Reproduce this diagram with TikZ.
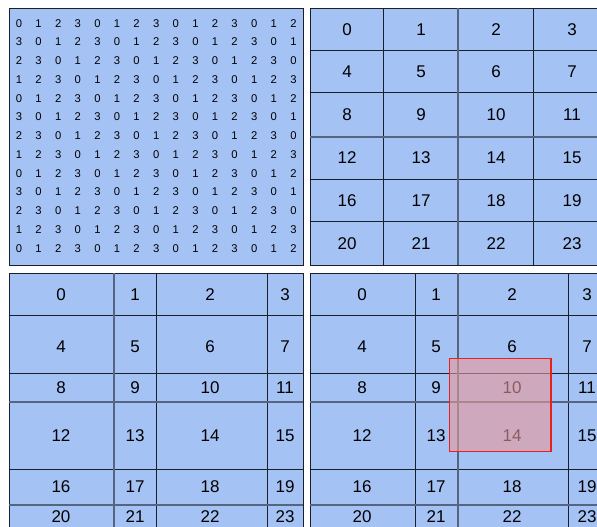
\documentclass[tikz,border=0pt]{standalone}
\usepackage{fontspec}
\setmainfont{Liberation Sans}
\definecolor{cellblue}{HTML}{A4C2F4}
\definecolor{gridink}{HTML}{1A1F2A}
\definecolor{seamink}{HTML}{56657F}
\definecolor{hotred}{HTML}{E8201E}
\definecolor{hotfill}{HTML}{EA9999}
\begin{document}
\begin{tikzpicture}[
  x=0.03cm, y=-0.03cm,
  panel/.style={draw=gridink, fill=cellblue, line width=0.85pt},
  gridline/.style={draw=gridink, line width=0.85pt},
  seam/.style={draw=seamink, line width=1.6pt},
  smallnum/.style={font=\fontsize{9.6}{11}\selectfont, inner sep=0pt},
  num/.style={font=\fontsize{14.5}{16}\selectfont, inner sep=0pt},
  hot/.style={draw=hotred, line width=1.3pt, fill=hotfill, fill opacity=0.6},
]
  \useasboundingbox (0,0) rectangle (597,526);
  \clip (0,0) rectangle (597,526);

  % element grid
  \draw[panel] (9,8) rectangle (303,265);
  \foreach \r in {0,...,12}
    \foreach \c in {0,...,14} {
      \pgfmathtruncatemacro\v{mod(\c-\r+16,4)}
      \node[smallnum] (s-\r-\c) at ({19+19.6*\c},{23.3+18.75*\r}) {\v};
    }

  % uniform tiles
  \draw[panel] (310,8) rectangle (620,265);
  \foreach \y in {50,92,179,221} \draw[gridline] (310,\y) -- (620,\y);
  \foreach \x in {383,533} \draw[gridline] (\x,8) -- (\x,265);
  \draw[seam] (310,137) -- (620,137);
  \draw[seam] (458,8) -- (458,265);
  \foreach \r/\y in {0/29.5,1/72,2/115,3/158,4/201,5/244}
    \foreach \c/\x in {0/347,1/421,2/496,3/572} {
      \pgfmathtruncatemacro\n{4*\r+\c}
      \node[num] (u-\n) at (\x,\y) {\n};
    }

  % uneven tiles, left
  \draw[panel] (9,273) rectangle (303,545);
  \foreach \y in {315,373,469} \draw[gridline] (9,\y) -- (303,\y);
  \foreach \x in {156,267} \draw[gridline] (\x,273) -- (\x,545);
  \foreach \y in {402,505} \draw[seam] (9,\y) -- (303,\y);
  \draw[seam] (114,273) -- (114,545);
  \foreach \r/\y in {0/295,1/347,2/388,3/436,4/487,5/517}
    \foreach \c/\x in {0/61,1/135,2/210,3/285} {
      \pgfmathtruncatemacro\n{4*\r+\c}
      \node[num] (l-\n) at (\x,\y) {\n};
    }

  % uneven tiles, right
  \draw[panel] (310,273) rectangle (620,545);
  \foreach \y in {315,373,469} \draw[gridline] (310,\y) -- (620,\y);
  \foreach \x in {415.7,568.7} \draw[gridline] (\x,273) -- (\x,545);
  \foreach \y in {402,505} \draw[seam] (310,\y) -- (620,\y);
  \draw[seam] (457.7,273) -- (457.7,545);
  \foreach \r/\y in {0/295,1/347,2/388,3/436,4/487,5/517}
    \foreach \c/\x in {0/362,1/436,2/512,3/587} {
      \pgfmathtruncatemacro\n{4*\r+\c}
      \node[num] (r-\n) at (\x,\y) {\n};
    }

  % window
  \draw[hot] (449.7,358.7) rectangle (551,451.7);

\end{tikzpicture}
\end{document}
